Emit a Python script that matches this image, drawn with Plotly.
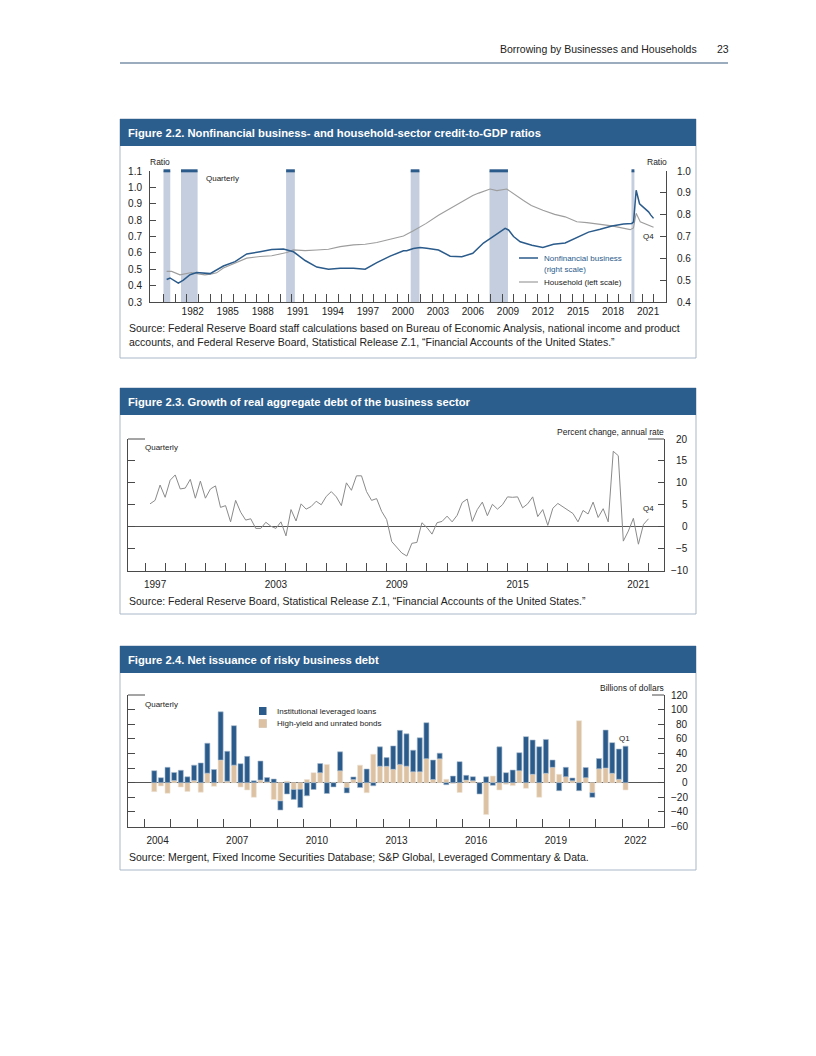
import plotly.graph_objects as go

W, H = 816, 1056
FONT = "Liberation Sans, Arial, Helvetica, sans-serif"
BLUE = "#2b5b8b"
TITLE_BG = "#2b5e8d"
FRAME = "#a9b7c8"
SHADE = "#c4cede"
GRAY_LINE = "#9d9d9d"
TAN = "#dcc2a2"
AX = "#4a4a4a"
TXT = "#222222"

# ---------------- Figure 2.2 data ----------------
recession_start = [1980.00, 1981.50, 1990.50, 2001.17, 2007.92, 2020.08]
recession_end = [1980.58, 1982.92, 1991.25, 2001.92, 2009.50, 2020.33]

household_t = [1980.27, 1980.70, 1981.41, 1981.84, 1982.41, 1982.98, 1983.55, 1984.13, 1984.55,
               1985.13, 1986.13, 1987.13, 1988.27, 1989.27, 1990.27, 1990.56, 1991.13, 1992.13,
               1993.13, 1994.13, 1995.13, 1996.27, 1997.27, 1998.27, 1999.41, 2000.55, 2001.40,
               2002.50, 2003.55, 2004.50, 2005.50, 2006.49, 2007.00, 2007.97, 2008.55, 2009.40,
               2010.83, 2011.50, 2012.49, 2013.50, 2014.40, 2015.40, 2016.26, 2017.40, 2018.40,
               2019.97, 2020.25, 2020.48, 2020.83, 2021.97]
household = [0.487, 0.487, 0.466, 0.472, 0.480, 0.472, 0.466, 0.472, 0.478,
             0.507, 0.537, 0.568, 0.578, 0.582, 0.598, 0.602, 0.618, 0.614,
             0.618, 0.622, 0.638, 0.649, 0.653, 0.663, 0.683, 0.703, 0.735,
             0.780, 0.830, 0.870, 0.910, 0.950, 0.965, 0.990, 0.980, 0.990,
             0.920, 0.890, 0.860, 0.835, 0.820, 0.790, 0.785, 0.775, 0.765,
             0.742, 0.752, 0.842, 0.790, 0.757]

business_t = [1980.27, 1980.56, 1981.27, 1981.70, 1982.27, 1982.84, 1983.99, 1985.13, 1986.13,
              1987.13, 1988.27, 1989.27, 1990.27, 1991.13, 1992.13, 1993.13, 1994.13, 1995.13,
              1996.27, 1997.27, 1998.27, 1999.41, 2000.55, 2000.83, 2001.40, 2001.97, 2002.54,
              2003.55, 2004.55, 2005.55, 2006.49, 2007.40, 2007.97, 2008.55, 2009.26, 2009.55,
              2009.98, 2010.55, 2011.55, 2012.49, 2013.40, 2014.40, 2015.40, 2016.40, 2017.40,
              2018.40, 2019.40, 2020.11, 2020.26, 2020.48, 2020.77, 2021.05, 2021.34, 2021.54,
              2021.74, 2021.97]
business = [0.503, 0.510, 0.486, 0.500, 0.525, 0.535, 0.530, 0.565, 0.585,
            0.620, 0.630, 0.640, 0.643, 0.630, 0.590, 0.560, 0.550, 0.555,
            0.555, 0.550, 0.580, 0.610, 0.635, 0.635, 0.645, 0.650, 0.646,
            0.638, 0.610, 0.607, 0.623, 0.670, 0.690, 0.710, 0.737, 0.730,
            0.700, 0.676, 0.660, 0.650, 0.664, 0.670, 0.695, 0.720, 0.733,
            0.748, 0.757, 0.760, 0.767, 0.912, 0.850, 0.836, 0.824, 0.813,
            0.798, 0.783]

ratio_label_years = [1982, 1985, 1988, 1991, 1994, 1997, 2000, 2003, 2006, 2009, 2012, 2015, 2018, 2021]
ratio_tick_years = list(range(1980, 2023))
left_ratio_ticks = [0.3, 0.4, 0.5, 0.6, 0.7, 0.8, 0.9, 1.0, 1.1]
right_ratio_ticks = [0.4, 0.5, 0.6, 0.7, 0.8, 0.9, 1.0]

# ---------------- Figure 2.3 data ----------------
growth_start_year = 1997
debt_growth = [5.2, 6.0, 9.5, 6.7,
               10.6, 11.8, 8.6, 8.8,
               10.8, 6.5, 10.4, 6.5,
               8.6, 9.3, 4.4, 4.8,
               1.1, 6.0, 3.3, 1.5,
               1.8, -0.4, -0.4, 1.0,
               0.1, -0.4, 1.1, -2.1,
               3.9, 1.3, 5.2, 4.0,
               4.6, 5.8, 5.0, 6.9,
               8.0, 6.8, 4.8, 10.0,
               8.3, 11.6, 11.6, 8.0,
               6.0, 6.4, 3.5, 1.6,
               -3.4, -4.6, -6.0, -6.7,
               -3.8, -3.6, 0.9, -0.2,
               -1.7, 0.9, 1.2, 2.4,
               1.1, 2.6, 5.5, 6.3,
               1.2, 3.9, 5.6, 2.5,
               5.1, 4.0, 5.0, 6.8,
               6.7, 6.8, 4.3, 5.2,
               6.8, 2.3, 3.9, 0.3,
               4.2, 5.3, 4.5, 3.9,
               3.0, 1.1, 3.7, 2.9,
               5.6, 2.1, 4.1, 1.1,
               17.2, 16.2, -3.3, -1.0,
               1.9, -4.0, 0.5, 1.8]
growth_label_years = [1997, 2003, 2009, 2015, 2021]
growth_tick_years = list(range(1997, 2023))
growth_ticks = [-10, -5, 0, 5, 10, 15, 20]

# ---------------- Figure 2.4 data ----------------
issuance_quarters = [f"{yr}Q{q}" for yr in range(2004, 2023) for q in range(1, 5)][1:73]
leveraged_loans = [16.4, 6.8, 21, 11, 17, 8, 21, 27, 41, 18,
                   66, 41, 54, 26, 36, 2.5, 26, 6, 5, -12.5,
                   -15.5, -13.6, -25, -18, -9.3, 12.5, -14.8, -5.8, 26, -7,
                   3.7, -6.7, 18.7, -4.3, 26.5, 11.9, 32, 46.6, 44.2, 29.7,
                   46.6, 49.2, 26.5, 7.8, -2.8, 9, 28.8, 6.5, 5.5, -15.5,
                   8, -3.6, 49, 13.7, 17.3, 24.6, 63, 47, 49.2, 46.4,
                   10, -11, 12.8, 3.7, -11, 14, -6.4, 14, 52, 42,
                   41.4, 50]
hy_bonds = [-12.3, -4.5, -14.5, 3, -6, -12, 3, -13, 13, -5,
            31, 2, 24, -6, -10, -20, 3.6, 1, -23, -25,
            2, -9.3, -9, 4.3, 13.7, 13.7, 25, 0.5, 16.2, -7,
            4.2, 24, -13.7, 38.9, 22.5, 22.4, 18.3, 25, 22.6, 14.8,
            14.8, 32.9, 4.4, 32.6, 4.6, -1, -13.5, 3.5, 2.7, 0,
            -43.7, 9, -10, -2, -4, 16.4, -7.7, 11.4, -20, 12.8,
            21, 11.4, 8.2, 2.7, 84.8, 6.8, -13.7, 19, 20, 12.8,
            4.6, -10]
issuance_label_years = [2004, 2007, 2010, 2013, 2016, 2019, 2022]
issuance_tick_years = list(range(2004, 2024))
issuance_ticks = [-60, -40, -20, 0, 20, 40, 60, 80, 100, 120]


# ---------------- helpers ----------------
def X(px):
    return px / W


def Y(py):
    return 1 - py / H


def qcenter(label):
    yr, q = label.split("Q")
    return int(yr) + (int(q) - 0.5) / 4


def minus(v):
    return str(v).replace("-", "\u2212")


shapes = []
ann = []


def rect(x0, y0, x1, y1, fill=None, line=None, lw=1):
    shapes.append(dict(type="rect", xref="paper", yref="paper", x0=X(x0), x1=X(x1), y0=Y(y1), y1=Y(y0),
                       fillcolor=fill if fill else "rgba(0,0,0,0)",
                       line=dict(color=line if line else "rgba(0,0,0,0)", width=lw if line else 0),
                       layer="below"))


def hline(x0, x1, y, color=AX, lw=1):
    shapes.append(dict(type="line", xref="paper", yref="paper", x0=X(x0), x1=X(x1), y0=Y(y), y1=Y(y),
                       line=dict(color=color, width=lw)))


def text(s, x, y, size=8.5, color=TXT, anchor="left", bold=False):
    ann.append(dict(text=f"<b>{s}</b>" if bold else s, x=X(x), y=Y(y), xref="paper", yref="paper",
                    xanchor=anchor, yanchor="middle", showarrow=False, borderpad=0, borderwidth=0,
                    font=dict(family=FONT, size=size, color=color)))


# ---------------- traces ----------------
fig = go.Figure()
fig.add_trace(go.Scatter(x=household_t, y=household, xaxis="x", yaxis="y", mode="lines",
                         line=dict(color=GRAY_LINE, width=1.1), showlegend=False, hoverinfo="skip"))
fig.add_trace(go.Scatter(x=business_t, y=business, xaxis="x", yaxis="y2", mode="lines",
                         line=dict(color=BLUE, width=1.5), showlegend=False, hoverinfo="skip"))

growth_x = [growth_start_year + (i + 1) / 4 for i in range(len(debt_growth))]
fig.add_trace(go.Scatter(x=growth_x, y=debt_growth, xaxis="x2", yaxis="y3", mode="lines",
                         line=dict(color="#8a8a8a", width=1), showlegend=False, hoverinfo="skip"))
fig.add_trace(go.Scatter(x=[], y=[], xaxis="x2", yaxis="y4", showlegend=False))

qx = [qcenter(s) for s in issuance_quarters]
fig.add_trace(go.Bar(x=qx, y=hy_bonds, xaxis="x3", yaxis="y5", width=0.19, showlegend=False,
                     marker=dict(color=TAN, line=dict(color="#efe4d6", width=0.6)), hoverinfo="skip"))
fig.add_trace(go.Bar(x=qx, y=leveraged_loans, xaxis="x3", yaxis="y5", width=0.19, showlegend=False,
                     marker=dict(color=BLUE, line=dict(color="#a9bccf", width=0.6)), hoverinfo="skip"))
fig.add_trace(go.Scatter(x=[], y=[], xaxis="x3", yaxis="y6", showlegend=False))

# ---------------- axes ----------------
tickfont = dict(family=FONT, size=10, color=TXT)


def xaxis_cfg(dom, rng, anchor, label_years, tick_years):
    return dict(domain=dom, range=rng, anchor=anchor, showline=True, linecolor=AX, linewidth=1,
                showgrid=False, zeroline=False, tickmode="array", automargin=False,
                tickvals=[yr + 0.5 for yr in label_years], ticktext=[str(yr) for yr in label_years],
                ticks="", tickfont=tickfont, fixedrange=True,
                minor=dict(tickmode="array", tickvals=tick_years, ticks="inside", ticklen=8,
                           tickwidth=1, tickcolor=AX, showgrid=False))


def yaxis_cfg(dom, rng, anchor, side, tickvals, ticktext=None, ticklen=6, overlay=None, zero=False):
    d = dict(range=rng, anchor=anchor, side=side, showline=True, linecolor=AX, linewidth=1,
             showgrid=False, ticks="inside", ticklen=ticklen, tickwidth=1, tickcolor=AX,
             tickmode="array", tickvals=tickvals, fixedrange=True, tickfont=tickfont, automargin=False,
             zeroline=zero, zerolinecolor="#555555", zerolinewidth=1)
    if ticktext is None:
        d["showticklabels"] = False
    else:
        d["ticktext"] = ticktext
    if overlay:
        d["overlaying"] = overlay
    else:
        d["domain"] = dom
    return d


layout_axes = dict(
    xaxis=xaxis_cfg([X(150), X(666)], [1978.844, 2023.036], "y", ratio_label_years, ratio_tick_years),
    yaxis=yaxis_cfg([Y(302), Y(171)], [0.3, 1.1], "x", "left", left_ratio_ticks,
                    [f"{v:.1f}" for v in left_ratio_ticks]),
    yaxis2=yaxis_cfg(None, [0.4, 1.0], "x", "right", right_ratio_ticks,
                     [f"{v:.1f}" for v in right_ratio_ticks], overlay="y"),
    xaxis2=xaxis_cfg([X(128), X(664)], [1996.156, 2022.77], "y3", growth_label_years, growth_tick_years),
    yaxis3=yaxis_cfg([Y(570.5), Y(439)], [-10, 20], "x2", "left", growth_ticks, ticklen=7, zero=True),
    yaxis4=yaxis_cfg(None, [-10, 20], "x2", "right", growth_ticks, overlay="y3"),
    xaxis3=xaxis_cfg([X(128), X(664)], [2003.386, 2023.574], "y5", issuance_label_years, issuance_tick_years),
    yaxis5=yaxis_cfg([Y(826.5), Y(695)], [-60, 120], "x3", "left", issuance_ticks, ticklen=7, zero=True),
    yaxis6=yaxis_cfg(None, [-60, 120], "x3", "right", issuance_ticks, overlay="y5"),
)
layout_axes["yaxis"]["ticklabelstandoff"] = 5
layout_axes["yaxis2"]["ticklabelstandoff"] = 8
layout_axes["xaxis2"]["ticklabelstandoff"] = 4
layout_axes["xaxis3"]["ticklabelstandoff"] = 4

# ---------------- page furniture ----------------
text("Borrowing by Businesses and Households", 697, 49, size=10.5, anchor="right")
text("23", 729, 49, size=10.5, anchor="right")
hline(120, 728, 63, color="#7a90a8", lw=1.6)

for (top, bottom, title) in [(119, 358, "Figure 2.2. Nonfinancial business- and household-sector credit-to-GDP ratios"),
                             (388, 614, "Figure 2.3. Growth of real aggregate debt of the business sector"),
                             (646, 870, "Figure 2.4. Net issuance of risky business debt")]:
    rect(120, top, 696, bottom, line=FRAME, lw=1)
    rect(120, top, 696, top + 27, fill=TITLE_BG)
    text(title, 128, top + 14, size=11.25, color="white", bold=True)

# Figure 2.2 decorations
for s, e in zip(recession_start, recession_end):
    shapes.append(dict(type="rect", xref="x", yref="y domain", x0=s, x1=e, y0=0, y1=1,
                       fillcolor=SHADE, line=dict(width=0), layer="below"))
    shapes.append(dict(type="rect", xref="x", yref="y domain", x0=s, x1=e, y0=0.99, y1=1.013,
                       fillcolor=BLUE, line=dict(width=0), layer="below"))
text("Ratio", 150, 162, size=8.5, anchor="left")
text("Ratio", 667, 162, size=8.5, anchor="right")
text("Quarterly", 206, 178, size=8)
text("Q4", 648, 237, size=8, anchor="center")
hline(519, 538, 258, color=BLUE, lw=1.5)
text("Nonfinancial business", 544, 258, size=8, color=BLUE)
text("(right scale)", 544, 269, size=8, color=BLUE)
hline(519, 538, 282, color=GRAY_LINE, lw=1.2)
text("Household (left scale)", 544, 282, size=8)
text("Source: Federal Reserve Board staff calculations based on Bureau of Economic Analysis, national income and product",
     129, 328, size=10.5)
text("accounts, and Federal Reserve Board, Statistical Release Z.1, \u201cFinancial Accounts of the United States.\u201d",
     129, 342, size=10.5)

# Figure 2.3 decorations
hline(128, 145, 439, color=AX)
hline(648, 664, 439, color=AX)
text("Quarterly", 145, 447, size=8)
text("Percent change, annual rate", 664, 432, size=8.5, anchor="right")
text("Q4", 648, 509, size=8, anchor="center")
for v in growth_ticks:
    ann.append(dict(text=minus(v), x=X(688), y=v, xref="paper", yref="y3", xanchor="right", yanchor="middle",
                    showarrow=False, borderpad=0, borderwidth=0, font=tickfont))
text("Source: Federal Reserve Board, Statistical Release Z.1, \u201cFinancial Accounts of the United States.\u201d",
     129, 601, size=10.5)

# Figure 2.4 decorations
hline(128, 145, 695, color=AX)
hline(652, 664, 695, color=AX)
text("Quarterly", 145, 704, size=8)
text("Billions of dollars", 664, 688, size=8.5, anchor="right")
text("Q1", 624, 738, size=8, anchor="center")
rect(259, 707, 266.5, 715, fill=BLUE)
rect(259, 719.5, 266.5, 727.5, fill=TAN, line="#c8b59c", lw=0.5)
text("Institutional leveraged loans", 277, 711.5, size=8)
text("High-yield and unrated bonds", 277, 723.5, size=8)
for v in issuance_ticks:
    ann.append(dict(text=minus(v), x=X(688), y=v, xref="paper", yref="y5", xanchor="right", yanchor="middle",
                    showarrow=False, borderpad=0, borderwidth=0, font=tickfont))
text("Source: Mergent, Fixed Income Securities Database; S&P Global, Leveraged Commentary & Data.",
     129, 857, size=10.5)

fig.update_layout(
    template="none",
    width=W, height=H, autosize=False,
    margin=dict(l=0, r=0, t=0, b=0, pad=0),
    paper_bgcolor="white", plot_bgcolor="rgba(0,0,0,0)",
    barmode="relative", bargap=0, hovermode=False,
    font=dict(family=FONT, size=10, color=TXT),
    shapes=shapes, annotations=ann, showlegend=False,
    **layout_axes,
)

fig.write_html("out.html", config={"displayModeBar": False, "staticPlot": True},
               post_script="document.body.style.margin='0';document.body.style.overflow='hidden';")
